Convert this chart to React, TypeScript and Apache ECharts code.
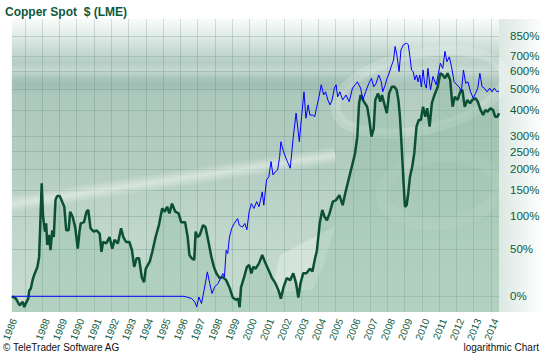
import { useEffect, useRef } from 'react';
import * as echarts from 'echarts';

// Copper Spot, % change since start (dark green line)
const copperYears = [
  1986.24, 1986.48, 1986.68, 1986.87, 1986.96, 1987.05, 1987.19, 1987.25, 1987.34, 1987.44,
  1987.53, 1987.72, 1987.82, 1987.91, 1987.97, 1988.05, 1988.16, 1988.23, 1988.29, 1988.39,
  1988.48, 1988.58, 1988.67, 1988.77, 1988.86, 1989.02, 1989.15, 1989.28, 1989.39, 1989.53,
  1989.62, 1989.76, 1989.91, 1990.06, 1990.16, 1990.23, 1990.42, 1990.57, 1990.67, 1990.80,
  1990.99, 1991.15, 1991.33, 1991.43, 1991.53, 1991.71, 1991.90, 1992.06, 1992.19, 1992.38,
  1992.57, 1992.70, 1992.86, 1993.05, 1993.20, 1993.33, 1993.47, 1993.61, 1993.77, 1993.90,
  1994.00, 1994.23, 1994.38, 1994.57, 1994.76, 1994.95, 1995.10, 1995.24, 1995.37, 1995.52,
  1995.71, 1995.90, 1996.05, 1996.28, 1996.43, 1996.53, 1996.66, 1996.81, 1996.89, 1997.00,
  1997.13, 1997.32, 1997.46, 1997.61, 1997.80, 1997.95, 1998.09, 1998.28, 1998.46, 1998.66,
  1998.85, 1999.04, 1999.23, 1999.36, 1999.44, 1999.52, 1999.70, 1999.86, 1999.99, 2000.12,
  2000.23, 2000.37, 2000.56, 2000.75, 2000.94, 2001.13, 2001.32, 2001.51, 2001.70, 2001.83,
  2001.98, 2002.17, 2002.37, 2002.55, 2002.71, 2002.84, 2002.97, 2003.12, 2003.31, 2003.51,
  2003.66, 2003.79, 2003.92, 2004.08, 2004.23, 2004.36, 2004.50, 2004.65, 2004.84, 2005.03,
  2005.22, 2005.41, 2005.56, 2005.75, 2005.94, 2006.13, 2006.26, 2006.36, 2006.45, 2006.64,
  2006.83, 2006.96, 2007.08, 2007.21, 2007.30, 2007.46, 2007.59, 2007.69, 2007.84, 2007.97,
  2008.10, 2008.26, 2008.41, 2008.54, 2008.64, 2008.73, 2008.83, 2008.93, 2009.02, 2009.12,
  2009.21, 2009.31, 2009.44, 2009.56, 2009.69, 2009.82, 2009.94, 2010.07, 2010.20, 2010.31,
  2010.45, 2010.58, 2010.73, 2010.92, 2011.07, 2011.21, 2011.34, 2011.49, 2011.64, 2011.78,
  2011.91, 2012.07, 2012.22, 2012.35, 2012.48, 2012.64, 2012.79, 2012.92, 2013.11, 2013.24,
  2013.40, 2013.55, 2013.68, 2013.81, 2013.97, 2014.12, 2014.25, 2014.38, 2014.47,
];
const copperPct = [
  0, -2, -7.5, -4.8, -8.9, -5.9, -2, 5.3, 6.9, 14.9,
  20, 28.9, 40.6, 105, 166, 99, 75, 88, 56, 70,
  49, 77, 67, 130, 138, 138, 127, 117, 77, 77,
  108, 99, 82, 51, 75, 88, 90, 108, 111, 80,
  75, 77, 72, 47, 60, 58, 67, 51, 63, 58,
  80, 67, 60, 60, 49, 29, 39, 39, 18, 13,
  27, 35, 47, 67, 85, 114, 108, 117, 105, 123,
  108, 105, 90, 90, 67, 43, 39, 37, 75, 67,
  70, 85, 82, 63, 41, 29, 22, 17, 18, 15,
  8, -1, -3, -2, -9, 8, 18, 29, 31, 22,
  29, 27, 33, 43, 33, 25, 17, 12, 5, -2,
  8, 17, 15, 22, 12, -1, 12, 22, 22, 27,
  24, 37, 49, 88, 111, 99, 93, 105, 127, 130,
  140, 120, 144, 174, 207, 245, 298, 432, 471, 439,
  416, 360, 298, 328, 447, 479, 439, 471, 424, 388,
  479, 513, 513, 496, 447, 373, 265, 174, 117, 120,
  144, 181, 207, 245, 334, 360, 360, 416, 373, 409,
  334, 432, 471, 513, 589, 579, 560, 589, 551, 416,
  462, 447, 487, 496, 416, 447, 432, 447, 455, 439,
  402, 380, 402, 394, 409, 402, 373, 373, 388,
];

// Comparison series (blue line)
const compareYears = [
  1986.24, 1996.16, 1996.38, 1996.66, 1996.85, 1996.95, 1997.08, 1997.23, 1997.38, 1997.57,
  1997.71, 1997.84, 1997.99, 1998.18, 1998.33, 1998.47, 1998.56, 1998.66, 1998.75, 1998.85,
  1998.98, 1999.13, 1999.32, 1999.42, 1999.61, 1999.74, 1999.86, 1999.99, 2000.12, 2000.27,
  2000.43, 2000.56, 2000.65, 2000.75, 2000.84, 2001.00, 2001.13, 2001.26, 2001.37, 2001.51,
  2001.64, 2001.76, 2001.83, 2001.98, 2002.17, 2002.37, 2002.46, 2002.55, 2002.71, 2002.78,
  2002.90, 2003.03, 2003.17, 2003.28, 2003.41, 2003.51, 2003.66, 2003.79, 2003.89, 2004.04,
  2004.17, 2004.31, 2004.42, 2004.55, 2004.68, 2004.80, 2004.93, 2005.03, 2005.12, 2005.25,
  2005.41, 2005.60, 2005.79, 2005.98, 2006.13, 2006.26, 2006.45, 2006.59, 2006.74, 2006.93,
  2007.08, 2007.21, 2007.35, 2007.50, 2007.65, 2007.73, 2007.88, 2007.98, 2008.07, 2008.22,
  2008.36, 2008.45, 2008.55, 2008.68, 2008.79, 2008.93, 2009.12, 2009.21, 2009.31, 2009.40,
  2009.50, 2009.59, 2009.69, 2009.78, 2009.88, 2009.97, 2010.07, 2010.16, 2010.26, 2010.35,
  2010.50, 2010.64, 2010.83, 2010.96, 2011.07, 2011.21, 2011.34, 2011.45, 2011.59, 2011.72,
  2011.87, 2012.02, 2012.16, 2012.29, 2012.41, 2012.54, 2012.67, 2012.82, 2012.98, 2013.11,
  2013.24, 2013.36, 2013.49, 2013.62, 2013.78, 2013.93, 2014.07, 2014.20, 2014.35, 2014.47,
];
const comparePct = [
  0, 0, -0.6, -2, -4.8, -8.9, -0.6, -6.1, 5.3, 23.5,
  11.6, 2.4, 8.4, 11.6, 16.6, 21.8, 18.2, 49, 44.8, 67,
  80, 88, 96, 85, 82, 88, 78, 108, 123, 114,
  127, 117, 130, 147, 120, 174, 181, 221, 186, 194,
  198, 235, 281, 250, 225, 203, 245, 298, 388, 347,
  281, 373, 487, 367, 424, 380, 380, 373, 409, 462,
  524, 471, 487, 447, 424, 447, 506, 524, 462, 487,
  447, 471, 439, 506, 524, 540, 506, 447, 487, 532,
  560, 513, 532, 579, 540, 487, 524, 560, 579, 629,
  673, 769, 708, 599, 744, 782, 795, 782, 694, 609,
  599, 551, 579, 540, 579, 513, 609, 532, 506, 619,
  496, 570, 524, 589, 652, 619, 733, 662, 694, 629,
  540, 524, 513, 487, 609, 532, 540, 487, 455, 479,
  506, 589, 513, 506, 487, 506, 487, 506, 487, 491,
];

const yTickPct = [0, 50, 100, 150, 200, 250, 300, 400, 500, 600, 700, 850];
const xGridYears = [
  1987, 1988, 1989, 1990, 1991, 1992, 1993, 1994, 1995, 1996, 1997, 1998, 1999, 2000,
  2001, 2002, 2003, 2004, 2005, 2006, 2007, 2008, 2009, 2010, 2011, 2012, 2013, 2014,
];
const xLabelYears = [
  1986, 1988, 1989, 1990, 1991, 1992, 1993, 1994, 1995, 1996, 1997, 1998, 1999, 2000,
  2001, 2002, 2003, 2004, 2005, 2006, 2007, 2008, 2009, 2010, 2011, 2012, 2013, 2014,
];

const X_MIN = 1986.24;
const X_MAX = 2014.47;
const Y_MIN = -0.136;
const Y_MAX = 2.4;
const FONT = '"Liberation Sans", Arial, sans-serif';
const DARK = '#0c5a3d';

const toLog = (p: number) => Math.log(1 + p / 100);

const whiteBand = (a: number) =>
  new echarts.graphic.LinearGradient(0, 0, 0, 1, [
    { offset: 0, color: 'rgba(255,255,255,0)' },
    { offset: 0.5, color: `rgba(255,255,255,${a})` },
    { offset: 1, color: 'rgba(255,255,255,0)' },
  ]);

export default function App() {
  const ref = useRef<HTMLDivElement>(null);
  useEffect(() => {
    if (!ref.current) return;
    const chart = echarts.init(ref.current, null, { renderer: 'svg' });
    const copperData = copperYears.map((y, i) => [y, toLog(copperPct[i])]);
    const compareData = compareYears.map((y, i) => [y, toLog(comparePct[i])]);
    chart.setOption({
      animation: false,
      backgroundColor: '#ffffff',
      grid: {
        left: 4,
        right: 45,
        top: 19,
        bottom: 41,
        show: true,
        borderWidth: 0,
        backgroundColor: new echarts.graphic.LinearGradient(0, 0, 0, 1, [
          { offset: 0, color: '#f8fbfa' },
          { offset: 0.05, color: '#e4eeea' },
          { offset: 0.12, color: '#c3d7cf' },
          { offset: 0.15, color: '#b4ccc3' },
          { offset: 0.175, color: '#c6d9d1' },
          { offset: 0.2, color: '#abc6bc' },
          { offset: 0.225, color: '#a1beb4' },
          { offset: 0.26, color: '#adc8bd' },
          { offset: 0.5, color: '#b4cdc2' },
          { offset: 0.75, color: '#c1d7cc' },
          { offset: 1, color: '#c8dcd1' },
        ]),
      },
      graphic: [
        {
          type: 'rect',
          z: -1,
          silent: true,
          shape: { x: 499, y: 19, width: 45, height: 293 },
          style: {
            fill: new echarts.graphic.LinearGradient(0, 0, 1, 0, [
              { offset: 0, color: '#dbe7e2' },
              { offset: 1, color: '#ffffff' },
            ]),
          },
        },
        // light diagonal streak
        {
          type: 'rect',
          z: 1,
          silent: true,
          x: 4,
          y: 205,
          rotation: 0.15,
          originX: 0,
          originY: 0,
          shape: { x: 0, y: -9, width: 335, height: 18 },
          style: { fill: whiteBand(0.45) },
        },
        // bright patch under the blue line
        {
          type: 'polygon',
          z: 1,
          silent: true,
          shape: { points: [[280, 255], [335, 226], [322, 270], [312, 290], [272, 292]] },
          style: { fill: 'rgba(255,255,255,0.28)' },
        },
        // swirl of the watermark logo
        {
          type: 'ellipse',
          z: 1,
          silent: true,
          x: 420,
          y: 92,
          rotation: 0.22,
          shape: { cx: 0, cy: 0, rx: 86, ry: 38 },
          style: { fill: 'rgba(255,255,255,0.1)', stroke: 'rgba(255,255,255,0.18)', lineWidth: 10 },
        },
        {
          type: 'ellipse',
          z: 1,
          silent: true,
          x: 440,
          y: 190,
          rotation: 0.1,
          shape: { cx: 0, cy: 0, rx: 58, ry: 34 },
          style: { fill: 'rgba(255,255,255,0)', stroke: 'rgba(255,255,255,0.1)', lineWidth: 12 },
        },
        {
          type: 'text',
          x: 5,
          y: 12,
          style: {
            text: 'Copper Spot  $ (LME)',
            fontSize: 12,
            fontWeight: 'bold',
            fontFamily: FONT,
            fill: DARK,
            verticalAlign: 'middle',
          },
        },
        {
          type: 'text',
          x: 3,
          y: 347,
          style: {
            text: '© TeleTrader Software AG',
            fontSize: 10,
            fontFamily: FONT,
            fill: '#111111',
            verticalAlign: 'middle',
          },
        },
        {
          type: 'text',
          x: 539,
          y: 347,
          style: {
            text: 'logarithmic Chart',
            fontSize: 10,
            fontFamily: FONT,
            fill: '#111111',
            align: 'right',
            verticalAlign: 'middle',
          },
        },
      ],
      xAxis: {
        type: 'value',
        min: X_MIN,
        max: X_MAX,
        axisLine: { show: false },
        axisTick: { show: false, customValues: xGridYears },
        splitLine: { show: true, lineStyle: { color: 'rgba(60,120,95,0.22)', width: 1 } },
        axisLabel: {
          customValues: xLabelYears.map((y) => (y === 1986 ? X_MIN + 0.13 : y + 0.27)),
          formatter: (v: number) => String(Math.floor(v + 1e-6)),
          rotate: 68,
          fontSize: 10,
          fontFamily: FONT,
          color: DARK,
          margin: 7,
        },
      },
      yAxis: {
        type: 'value',
        position: 'right',
        min: Y_MIN,
        max: Y_MAX,
        axisLine: { show: false },
        axisTick: { show: false, customValues: yTickPct.map(toLog) },
        splitLine: { show: true, lineStyle: { color: 'rgba(60,120,95,0.22)', width: 1 } },
        axisLabel: {
          customValues: yTickPct.map(toLog),
          formatter: (v: number) => Math.round((Math.exp(v) - 1) * 100) + '%',
          fontSize: 11.5,
          fontFamily: FONT,
          color: DARK,
          margin: 11,
        },
      },
      series: [
        {
          type: 'line',
          data: copperData,
          symbol: 'none',
          z: 3,
          lineStyle: { color: '#0b4f34', width: 2.5 },
          areaStyle: { origin: 'start', color: 'rgba(130,182,148,0.42)' },
        },
        {
          type: 'line',
          data: compareData,
          symbol: 'none',
          z: 4,
          lineStyle: { color: '#0000ff', width: 1 },
        },
      ],
    });
    return () => chart.dispose();
  }, []);
  return (
    <div
      ref={ref}
      style={{ position: 'fixed', left: 0, top: 0, width: 544, height: 353 }}
    />
  );
}
